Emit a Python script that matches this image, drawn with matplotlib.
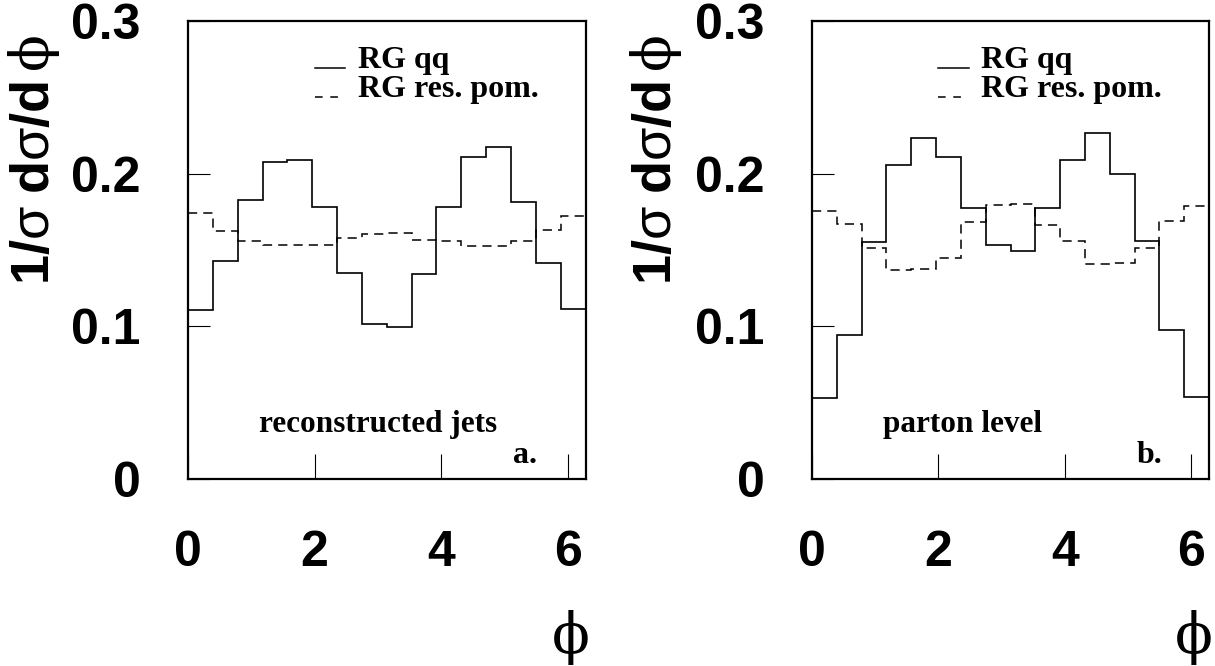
import numpy as np
import matplotlib
matplotlib.use("Agg")
import matplotlib.pyplot as plt
import matplotlib.transforms as mtransforms

plt.rcParams["mathtext.fontset"] = "custom"
plt.rcParams["mathtext.bf"] = "Liberation Sans:bold"
plt.rcParams["mathtext.rm"] = "Liberation Sans"
plt.rcParams["mathtext.it"] = "Liberation Sans"
plt.rcParams["mathtext.sf"] = "DejaVu Serif"

# 16 azimuthal bins over [0, 2pi]
n_bins = 16
edges = np.linspace(0.0, 2.0 * np.pi, n_bins + 1)

# (a) reconstructed jets
reco_qq = [0.111, 0.1425, 0.183, 0.2075, 0.2087, 0.1784, 0.135, 0.1015,
           0.0993, 0.1344, 0.1784, 0.211, 0.2172, 0.1813, 0.1412, 0.1113]
reco_pom = [0.1745, 0.1627, 0.1562, 0.1534, 0.1536, 0.1534, 0.158, 0.1608,
            0.161, 0.1566, 0.1558, 0.1529, 0.1529, 0.1558, 0.1632, 0.1721]

# (b) parton level
part_qq = [0.0532, 0.0941, 0.1553, 0.2059, 0.2233, 0.2107, 0.1776, 0.1532,
           0.1494, 0.1776, 0.2092, 0.2268, 0.2, 0.1558, 0.0974, 0.0534]
part_pom = [0.1754, 0.1669, 0.1512, 0.1366, 0.1377, 0.1449, 0.1682, 0.1797,
            0.1803, 0.1665, 0.1556, 0.141, 0.1414, 0.1514, 0.1688, 0.1791]

x_ticks = [0, 2, 4, 6]
y_ticks = [0.0, 0.1, 0.2, 0.3]
y_tick_labels = ["0", "0.1", "0.2", "0.3"]
legend_labels = ["RG qq", "RG res. pom."]
panel_titles = ["reconstructed jets", "parton level"]
panel_tags = ["a.", "b."]

W, H = 1215, 666
fig = plt.figure(figsize=(W / 100, H / 100), dpi=100)

panels = [
    dict(rect=[188 / W, 1 - 479 / H, 397.5 / W, 458 / H],
         qq=reco_qq, pom=reco_pom, ylab_x=34),
    dict(rect=[812 / W, 1 - 479 / H, 397 / W, 458 / H],
         qq=part_qq, pom=part_pom, ylab_x=656),
]

sans_bold = dict(family="Liberation Sans", weight="bold")
serif_bold = dict(family="Liberation Serif", weight="bold")
dash = (0, (6, 4))
ylabel = r"$\mathbf{1/}\sigma\;\mathbf{d}\sigma\mathbf{/d}\,\mathsf{\phi}$"

for i, p in enumerate(panels):
    ax = fig.add_axes(p["rect"])
    ax.stairs(p["qq"], edges, baseline=None, color="black", lw=1.2)
    ax.stairs(p["pom"], edges, baseline=None, color="black", lw=1.1,
              linestyle=dash)

    ax.set_xlim(0, 2 * np.pi)
    ax.set_ylim(0, 0.3)
    ax.set_xticks(x_ticks)
    ax.set_xticklabels([str(t) for t in x_ticks], fontsize=36, **sans_bold)
    ax.set_yticks(y_ticks)
    ax.set_yticklabels(y_tick_labels, fontsize=36, **sans_bold)
    ax.tick_params(axis="x", direction="in", length=18, width=0.8, pad=37,
                   top=False)
    ax.tick_params(axis="y", direction="in", length=16, width=0.8, pad=34,
                   right=False)
    for s in ax.spines.values():
        s.set_linewidth(1.6)

    # legend drawn as line samples + labels
    ax.plot([2.0, 2.48], [0.2695, 0.2695], color="black", lw=1.1)
    ax.plot([2.0, 2.4], [0.2499, 0.2499], color="black", lw=1.1,
            linestyle=(0, (5, 5)))
    ax.text(2.68, 0.2695, legend_labels[0], fontsize=23, va="baseline",
            ha="left", **serif_bold)
    ax.text(2.68, 0.2499, legend_labels[1], fontsize=23, va="baseline",
            ha="left", **serif_bold)

    ax.text(1.13, 0.0307, panel_titles[i], fontsize=22.5, va="baseline",
            ha="left", **serif_bold)
    ax.text(5.13, 0.0105, panel_tags[i], fontsize=23, va="baseline",
            ha="left", **serif_bold)

    # axis titles
    trans = mtransforms.blended_transform_factory(ax.transData, ax.transAxes)
    ax.text(6.05, -0.347, "\u03d5", transform=trans, fontsize=40,
            family="DejaVu Serif", ha="center", va="center")
    fig.text(p["ylab_x"] / W, 1 - 160 / H, ylabel,
             rotation=90, fontsize=39, ha="center", va="center")

fig.savefig("out.png", dpi=100)
